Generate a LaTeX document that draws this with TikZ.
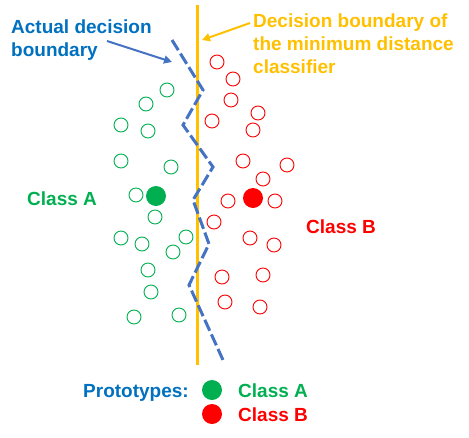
\documentclass[tikz,border=0pt]{standalone}
\usepackage{fontspec}
\setmainfont{Liberation Sans}
\usetikzlibrary{arrows.meta}
\definecolor{cgreen}{HTML}{00B050}
\definecolor{cred}{HTML}{FF0000}
\definecolor{ctext}{HTML}{0070C0}
\definecolor{cdash}{HTML}{4472C4}
\definecolor{corange}{HTML}{FFC000}
\tikzset{
  lbl/.style={font=\fontsize{19}{23}\selectfont\bfseries, inner sep=0pt, align=left},
  hollowA/.style={circle, draw=cgreen, line width=0.9pt, minimum size=14pt, inner sep=0pt},
  hollowB/.style={circle, draw=cred, line width=0.9pt, minimum size=14pt, inner sep=0pt},
  protoA/.style={circle, fill=cgreen, minimum size=20pt, inner sep=0pt},
  protoB/.style={circle, fill=cred, minimum size=20pt, inner sep=0pt},
  mdline/.style={draw=corange, line width=3pt},
  actual/.style={draw=cdash, line width=3pt, dash pattern=on 12pt off 4pt},
  pointer/.style={line width=2pt, -{Triangle[length=8pt,width=8pt]}}
}
\begin{document}
\begin{tikzpicture}[x=1pt,y=-1pt]
\useasboundingbox (0,0) rectangle (469,437);
% class A samples
\foreach \p [count=\i] in {(167,90),(146,104),(121,125),(148,131),(121,161),(171,167),(136,195),(155,217),(121,238),(142,244),(186,237),(173,252),(148,270),(151,292),(134,317),(179,315)}
  \node[hollowA] (a\i) at \p {};
% class B samples
\foreach \p [count=\i] in {(217,62),(233,79),(231,100),(258,113),(212,121),(253,130),(243,161),(287,165),(263,179),(228,201),(275,201),(214,222),(250,238),(274,245),(222,277),(263,275),(225,302),(260,307)}
  \node[hollowB] (b\i) at \p {};
% prototypes
\node[protoA] (pA) at (156,196) {};
\node[protoB] (pB) at (253,198) {};
% minimum distance boundary
\coordinate (mt) at (197,5);
\coordinate (mb) at (197,365);
\draw[mdline] (mt) -- (mb);
% actual boundary
\coordinate (d0) at (172,40);
\coordinate (d1) at (203,90);
\coordinate (d2) at (183,125);
\coordinate (d3) at (213,167);
\coordinate (d4) at (193,200);
\coordinate (d5) at (209,244);
\coordinate (d6) at (189,285);
\coordinate (d7) at (223,360);
\draw[actual] (d0) -- (d1) -- (d2) -- (d3) -- (d4) -- (d5) -- (d6) -- (d7);
% labels
\node[lbl, text=ctext, anchor=base west] (lact) at (11,56) {Actual decision\\boundary};
\node[lbl, text=corange, anchor=base west] (lmd) at (253,73) {Decision boundary of\\the minimum distance\\classifier};
\node[lbl, text=cgreen, anchor=base west] (lA) at (27,205) {Class A};
\node[lbl, text=cred, anchor=base west] (lB) at (306,233) {Class B};
% pointers
\coordinate (ps1) at (107,41);
\coordinate (pt1) at (172,62);
\coordinate (ps2) at (250,23);
\coordinate (pt2) at (202,40);
\draw[pointer, cdash] (ps1) -- (pt1);
\draw[pointer, corange] (ps2) -- (pt2);
% legend
\node[lbl, text=ctext, anchor=base west] (lproto) at (83,397) {Prototypes:};
\node[protoA] (gA) at (212,390) {};
\node[protoB] (gB) at (212,414) {};
\node[lbl, text=cgreen, anchor=base west] (gAl) at (238,397) {Class A};
\node[lbl, text=cred, anchor=base west] (gBl) at (238,421) {Class B};
\end{tikzpicture}
\end{document}
